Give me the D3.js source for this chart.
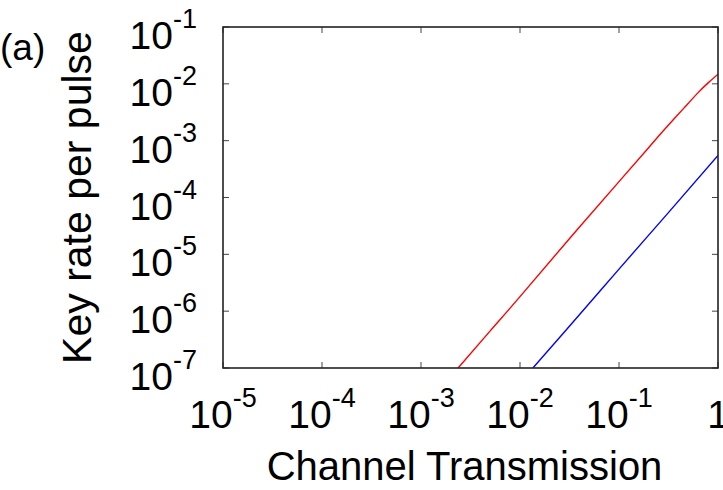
<!DOCTYPE html>
<html>
<head>
<meta charset="utf-8">
<script src="https://d3js.org/d3.v7.min.js"></script>
<style>
  body { margin: 0; background: #fff; }
  svg { font-family: "Liberation Sans", Arial, Helvetica, sans-serif; }
</style>
</head>
<body>
<div id="chart"></div>
<script>
// values
var xTickExp = [-5, -4, -3, -2, -1, 0];
var yTickExp = [-7, -6, -5, -4, -3, -2, -1];

var redEta  = [0.00237, 0.005, 0.01, 0.03, 0.1, 0.2, 0.3, 0.45, 0.63, 0.8, 1.0];
var redRate = [1e-7, 4.5e-7, 1.8e-6, 1.7e-5, 1.9e-4, 7.6e-4, 1.7e-3, 3.7e-3, 7.0e-3, 1.05e-2, 1.48e-2];

var blueEta  = [0.0135, 0.03, 0.1, 0.3, 1.0];
var blueRate = [1e-7, 4.9e-7, 5.5e-6, 4.9e-5, 5.5e-4];

var width = 723, height = 490;
var margin = {top: 27, right: 5, bottom: 122, left: 223};
var w = width - margin.left - margin.right;
var h = height - margin.top - margin.bottom;

var x = d3.scaleLog().domain([1e-5, 1]).range([0, w]);
var y = d3.scaleLog().domain([1e-7, 1e-1]).range([h, 0]);

var svg = d3.select("#chart").append("svg")
  .attr("width", width)
  .attr("height", height);

var g = svg.append("g")
  .attr("transform", "translate(" + margin.left + "," + margin.top + ")");

g.append("clipPath").attr("id", "clip")
  .append("rect").attr("width", w).attr("height", h);

var tickLen = 6;

// ticks on all four sides, pointing inward
xTickExp.forEach(function(e) {
  var px = x(Math.pow(10, e));
  g.append("line").attr("x1", px).attr("x2", px).attr("y1", h).attr("y2", h - tickLen)
    .attr("stroke", "#444").attr("stroke-width", 1);
  g.append("line").attr("x1", px).attr("x2", px).attr("y1", 0).attr("y2", tickLen)
    .attr("stroke", "#444").attr("stroke-width", 1);

  var t = g.append("text")
    .attr("x", px).attr("y", h + 60)
    .attr("text-anchor", "middle")
    .style("font-size", "39px");
  if (e === 0) {
    t.text("1");
  } else {
    t.append("tspan").text("10");
    t.append("tspan").attr("dy", -21).style("font-size", "27px").text(e);
  }
});

yTickExp.forEach(function(e) {
  var py = y(Math.pow(10, e));
  g.append("line").attr("x1", 0).attr("x2", tickLen).attr("y1", py).attr("y2", py)
    .attr("stroke", "#444").attr("stroke-width", 1);
  g.append("line").attr("x1", w).attr("x2", w - tickLen).attr("y1", py).attr("y2", py)
    .attr("stroke", "#444").attr("stroke-width", 1);

  var t = g.append("text")
    .attr("x", -26).attr("y", py + 22)
    .attr("text-anchor", "end")
    .style("font-size", "39px");
  t.append("tspan").text("10");
  t.append("tspan").attr("dy", -21).style("font-size", "27px").text(e);
});

// curves
var line = d3.line()
  .x(function(d) { return x(d[0]); })
  .y(function(d) { return y(d[1]); })
  .curve(d3.curveNatural);

var series = [
  {eta: redEta, rate: redRate, color: "#ff0000"},
  {eta: blueEta, rate: blueRate, color: "#0000ff"}
];

series.forEach(function(s) {
  g.append("path")
    .datum(s.eta.map(function(v, i) { return [v, s.rate[i]]; }))
    .attr("clip-path", "url(#clip)")
    .attr("fill", "none")
    .attr("stroke", s.color)
    .attr("stroke-width", 1.4)
    .attr("d", line);
});

// frame
g.append("rect")
  .attr("width", w).attr("height", h)
  .attr("fill", "none")
  .attr("stroke", "#222")
  .attr("stroke-width", 1.6);

// axis titles
svg.append("text")
  .attr("x", margin.left + w / 2 - 6)
  .attr("y", 480)
  .attr("text-anchor", "middle")
  .style("font-size", "40px")
  .text("Channel Transmission");

svg.append("text")
  .attr("transform", "translate(91," + (margin.top + h / 2) + ") rotate(-90)")
  .attr("text-anchor", "middle")
  .style("font-size", "41px")
  .text("Key rate per pulse");

svg.append("text")
  .attr("x", 0).attr("y", 60)
  .style("font-size", "37px")
  .text("(a)");
</script>
</body>
</html>
